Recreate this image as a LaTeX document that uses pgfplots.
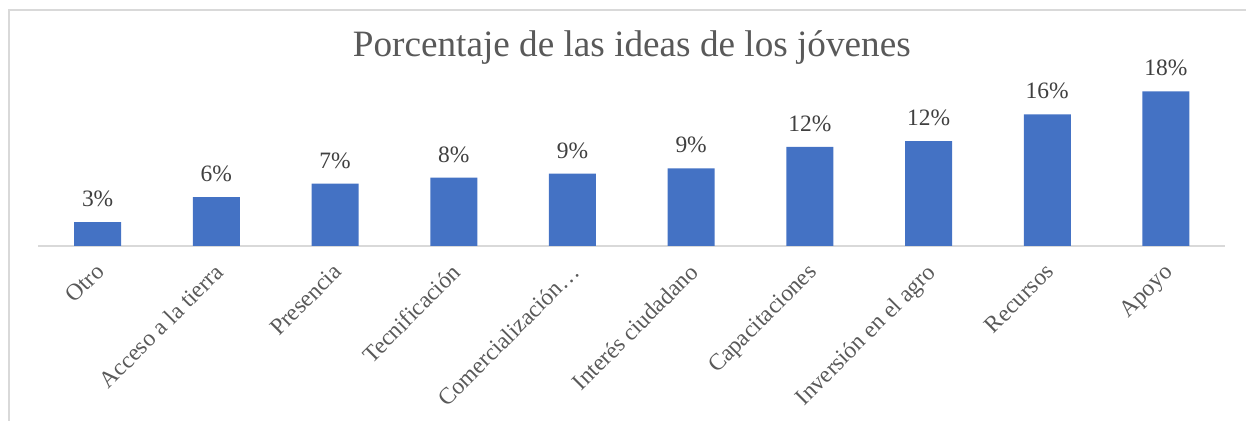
\documentclass[border=0pt]{standalone}
\usepackage{pgfplots}
\pgfplotsset{compat=1.18}
\usepackage{fontspec}
\setmainfont{Liberation Serif}
\definecolor{barblue}{HTML}{4472C4}
\definecolor{axgray}{HTML}{D9D9D9}
\definecolor{titlegray}{HTML}{595959}
\definecolor{labelgray}{HTML}{404040}
\begin{document}
\begin{tikzpicture}
\useasboundingbox (0,0) rectangle (934.5pt,315.75pt);
\draw[axgray, line width=1.1pt] (6.75pt,0) -- (6.75pt,308.25pt) -- (934.5pt,308.25pt);
\begin{axis}[
  at={(28.725pt,131.25pt)}, anchor=south west,
  scale only axis, width=890.25pt, height=126.6pt,
  xmin=-0.5, xmax=9.5, ymin=0, ymax=20,
  axis y line=none,
  axis x line*=bottom,
  x axis line style={-, axgray, line width=1.1pt},
  clip=false,
  /pgf/number format/assume math mode=true,
  xtick={0,...,9},
  xticklabels={Otro, Acceso a la tierra, Presencia, Tecnificación, Comercialización…, Interés ciudadano, Capacitaciones, Inversión en el agro, Recursos, Apoyo},
  major tick length=0pt,
  xticklabel style={xshift=-2.5pt, yshift=-12pt, rotate=45, anchor=north east, inner sep=0pt, font=\fontsize{17.6}{21}\selectfont, text=titlegray},
  title={Porcentaje de las ideas de los jóvenes},
  title style={at={(0.5,1.0723)}, anchor=base, inner sep=0pt, font=\fontsize{27.9}{33}\selectfont, text=titlegray},
]
\addplot[ybar, bar width=35.25pt, fill=barblue, draw=none,
  nodes near coords={\pgfmathprintnumber[fixed,precision=0]{\pgfplotspointmeta}\%},
  nodes near coords style={anchor=base, inner sep=0pt, yshift=11.6pt, font=\fontsize{17.6}{21}\selectfont, text=labelgray},
] coordinates {
  (0,2.83) (1,5.80) (2,7.39) (3,8.11) (4,8.58)
  (5,9.21) (6,11.74) (7,12.42) (8,15.59) (9,18.33)
};
\end{axis}
\end{tikzpicture}
\end{document}
